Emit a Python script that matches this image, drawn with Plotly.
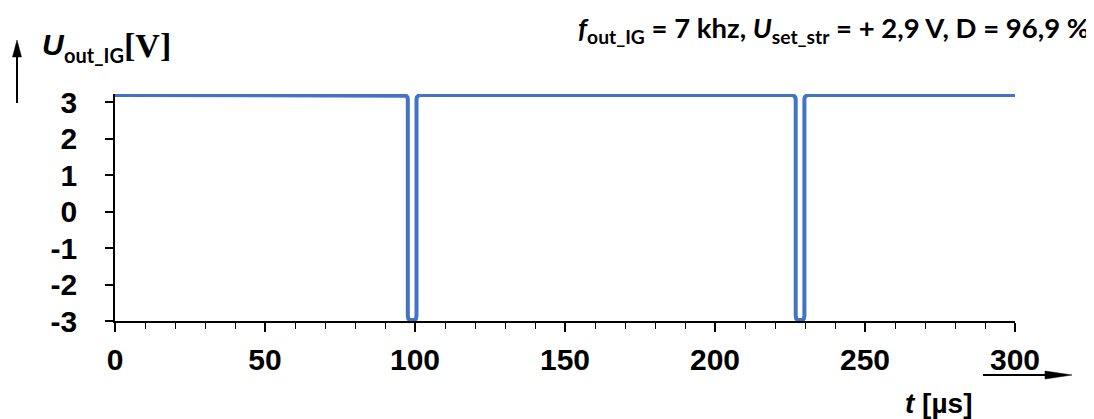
import plotly.graph_objects as go

# ---- data ----
t_us = [0,
        96.3, 96.95, 97.43, 97.6, 97.6, 97.8, 98.3, 99.05, 99.8, 100.3, 100.5, 100.5, 100.67, 101.15, 101.8,
        225.6, 226.25, 226.73, 226.9, 226.9, 227.1, 227.6, 228.35, 229.1, 229.6, 229.8, 229.8, 229.97, 230.45, 231.1,
        300]
u_v = [3.19,
       3.19, 3.175, 3.135, 3.08, -2.86, -2.94, -2.975, -2.98, -2.975, -2.94, -2.86, 3.08, 3.135, 3.175, 3.19,
       3.19, 3.175, 3.135, 3.08, -2.86, -2.94, -2.975, -2.98, -2.975, -2.94, -2.86, 3.08, 3.135, 3.175, 3.19,
       3.19]
x_ticks = [0, 50, 100, 150, 200, 250, 300]
y_ticks = [-3, -2, -1, 0, 1, 2, 3]

OFF = 8  # page body margin
W, H = 1094 - OFF, 419 - OFF
L, R, T, B = 115 - OFF, 79, 94 - OFF, 98
PW, PH = W - L - R, H - T - B


def px(x):
    return (x - OFF - L) / PW


def py(y):
    return (H - B - (y - OFF)) / PH


fig = go.Figure()
fig.add_trace(go.Scatter(x=t_us, y=u_v, mode="lines",
                         line=dict(color="#4472C4", width=4),
                         hoverinfo="skip", showlegend=False))

axis_common = dict(showgrid=False, zeroline=False, showline=True, linecolor="black",
                   linewidth=1.5, ticks="outside", tickcolor="black", tickwidth=1.5,
                   tickfont=dict(family="Liberation Sans", size=30, color="black", weight="bold"))

fig.update_xaxes(range=[0, 300], tickvals=x_ticks, ticktext=[str(v) for v in x_ticks],
                 ticklen=9, ticklabelstandoff=2,
                 minor=dict(dtick=10, ticks="outside", ticklen=6, tickcolor="black", tickwidth=1.2),
                 **axis_common)
fig.update_yaxes(range=[-3, 3.22], tickvals=y_ticks, ticktext=[str(v) for v in y_ticks],
                 ticklen=8, ticklabelstandoff=22, **axis_common)

shapes = []
# y arrow
shapes.append(dict(type="line", xref="paper", yref="paper", x0=px(17), x1=px(17), y0=py(103), y1=py(52),
                   line=dict(color="black", width=2)))
shapes.append(dict(type="path", xref="paper", yref="paper",
                   path=f"M {px(17)},{py(40)} L {px(12.5)},{py(57)} L {px(21.5)},{py(57)} Z",
                   fillcolor="black", line=dict(color="black", width=0.5)))
# x arrow
shapes.append(dict(type="line", xref="paper", yref="paper", x0=px(983), x1=px(1050), y0=py(375), y1=py(375),
                   line=dict(color="black", width=2)))
shapes.append(dict(type="path", xref="paper", yref="paper",
                   path=f"M {px(1072)},{py(375)} L {px(1045)},{py(371)} L {px(1045)},{py(379)} Z",
                   fillcolor="black", line=dict(color="black", width=0.5)))

ann = []
# title (top right)
ann.append(dict(xref="paper", yref="paper", x=px(1091), y=py(8.5), xanchor="right", yanchor="top",
                showarrow=False,
                text="<b><i>f</i><sub>out_IG</sub> = 7 khz, <i>U</i><sub>set_str</sub> = + 2,9 V, D = 96,9 %</b>",
                font=dict(family="Lato", size=27.5, color="black")))
# y label
ann.append(dict(xref="paper", yref="paper", x=px(40), y=py(44), xanchor="left", yanchor="middle",
                showarrow=False, text="<b><i>U</i></b>",
                font=dict(family="Liberation Sans", size=30, color="black")))
ann.append(dict(xref="paper", yref="paper", x=px(62), y=py(55), xanchor="left", yanchor="middle",
                showarrow=False, text="<b>out_IG</b>",
                font=dict(family="Lato", size=20, color="black")))
ann.append(dict(xref="paper", yref="paper", x=px(122), y=py(45), xanchor="left", yanchor="middle",
                showarrow=False, text="<b>[V]</b>",
                font=dict(family="Liberation Serif", size=34, color="black")))
# x label
ann.append(dict(xref="paper", yref="paper", x=px(938), y=py(403), xanchor="center", yanchor="middle",
                showarrow=False, text="<b><i>t</i> [µs]</b>",
                font=dict(family="Liberation Sans", size=28, color="black")))

fig.update_layout(width=W, height=H, margin=dict(l=L, r=R, t=T, b=B, autoexpand=False),
                  plot_bgcolor="white", paper_bgcolor="white", shapes=shapes, annotations=ann)

fig.write_html("out.html")
